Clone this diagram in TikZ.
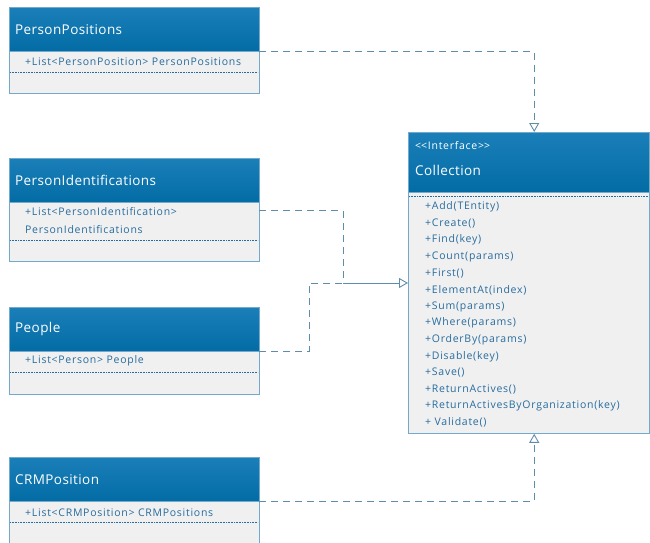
\documentclass[tikz,border=0pt]{standalone}
\usepackage{fontspec}
\setmainfont{Open Sans}
\newfontfamily\headfont{Open Sans}[LetterSpace=3]
\newfontfamily\memberfont{Open Sans}[LetterSpace=7]
\usetikzlibrary{positioning,arrows.meta}

\definecolor{headA}{HTML}{1B7FB8}
\definecolor{headB}{HTML}{036CA5}
\definecolor{boxline}{HTML}{72A9CC}
\definecolor{bodyfill}{HTML}{F0F0F0}
\definecolor{membertext}{HTML}{276C9E}
\definecolor{linkline}{HTML}{5E8DAA}

\tikzset{
  classhead/.style={rectangle, draw=boxline, top color=headA, bottom color=headB,
    text=white, font=\headfont\fontsize{13.5}{16}\selectfont, minimum width=250pt,
    minimum height=44pt, text width=238pt, inner sep=6pt, anchor=north west,
    align=left},
  classbody/.style={rectangle, draw=boxline, fill=bodyfill, minimum width=250pt,
    inner sep=0pt, anchor=north west},
  member/.style={font=\memberfont\fontsize{10.5}{18}\selectfont, text=membertext,
    inner sep=0pt, anchor=west, align=left},
  memberline/.style={draw=membertext, densely dotted, line width=0.6pt},
  link/.style={draw=linkline, dash pattern=on 7pt off 5pt, line width=0.9pt},
  realizes/.style={link, -{Triangle[open, length=9pt, width=10pt]}},
}

\begin{document}
\begin{tikzpicture}[x=1pt, y=-1pt]
  \useasboundingbox (0,0) rectangle (650,543);

  % PersonPositions
  \node[classhead] (ppHead) at (9,7) {PersonPositions};
  \node[classbody, minimum height=42pt] (ppBody) at (ppHead.south west) {};
  \node[member] (ppAttr) at (25,62) {+List<PersonPosition> PersonPositions};
  \draw[memberline] (10,72) -- (258,72);

  % PersonIdentifications
  \node[classhead] (piHead) at (9,158) {PersonIdentifications};
  \node[classbody, minimum height=59pt] (piBody) at (piHead.south west) {};
  \node[member] (piAttr) at (25,221) {+List<PersonIdentification>\\PersonIdentifications};
  \draw[memberline] (10,240) -- (258,240);

  % People
  \node[classhead] (peHead) at (9,307) {People};
  \node[classbody, minimum height=43pt] (peBody) at (peHead.south west) {};
  \node[member] (peAttr) at (25,361) {+List<Person> People};
  \draw[memberline] (10,372) -- (258,372);

  % CRMPosition
  \node[classhead] (crHead) at (9,457) {CRMPosition};
  \node[classbody, minimum height=60pt] (crBody) at (crHead.south west) {};
  \node[member] (crAttr) at (25,513) {+List<CRMPosition> CRMPositions};
  \draw[memberline] (10,522) -- (258,522);

  % Collection
  \node[classhead, minimum width=241pt, text width=229pt, minimum height=60pt] (collHead) at (408,132) {};
  \node[member, text=white] (collStereo) at (415,146) {<\kern0pt<Interface>\kern0pt>};
  \node[text=white, font=\headfont\fontsize{13.5}{16}\selectfont, anchor=west, inner sep=0pt] (collName) at (415,170) {Collection};
  \node[classbody, minimum width=241pt, minimum height=241pt] (collBody) at (collHead.south west) {};
  \draw[memberline] (409,196) -- (648,196);
  \foreach \m [count=\i from 0] in {+Add(TEntity), +Create(), +Find(key),
      +Count(params), +First(), +ElementAt(index), +Sum(params),
      +Where(params), +OrderBy(params), +Disable(key), +Save(),
      +ReturnActives(), +ReturnActivesByOrganization(key), + Validate()}
    \node[member] (meth\i) at (425,{207+16.6*\i}) {\m};

  % realizations
  \coordinate (join) at (343,283);
  \draw[realizes] (ppHead.south east) -| ([xshift=5.5pt]collHead.north);
  \draw[link] ([yshift=-8pt]piBody.north east) -| (join);
  \draw[link] (peHead.south east) -- ++(50,0) |- (join);
  \draw[realizes, solid] (join) -- (join -| collBody.west);
  \draw[realizes] (crHead.south east) -| ([xshift=5.5pt]collBody.south);
\end{tikzpicture}
\end{document}
